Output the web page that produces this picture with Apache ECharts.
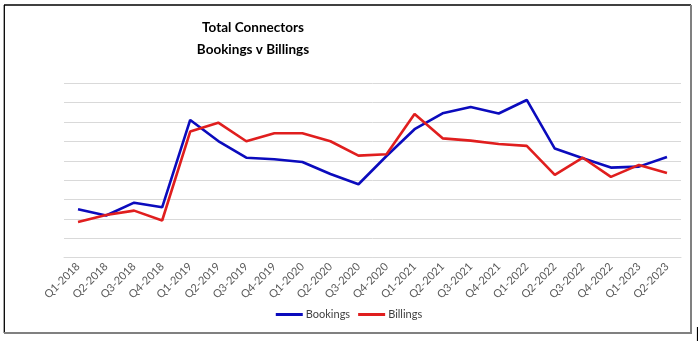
<!DOCTYPE html>
<html>
<head>
<meta charset="utf-8">
<script src="https://cdn.jsdelivr.net/npm/echarts@6/dist/echarts.min.js"></script>
<style>
  html, body { margin: 0; padding: 0; background: #ffffff; }
  #chart { width: 698px; height: 341px; }
</style>
</head>
<body>
<div id="chart"></div>
<script>
// Quarterly connector volumes (relative units)
const quarters = [
  'Q1-2018', 'Q2-2018', 'Q3-2018', 'Q4-2018',
  'Q1-2019', 'Q2-2019', 'Q3-2019', 'Q4-2019',
  'Q1-2020', 'Q2-2020', 'Q3-2020', 'Q4-2020',
  'Q1-2021', 'Q2-2021', 'Q3-2021', 'Q4-2021',
  'Q1-2022', 'Q2-2022', 'Q3-2022', 'Q4-2022',
  'Q1-2023', 'Q2-2023'
];
const bookings = [
  2.50, 2.18, 2.84, 2.60,
  7.11, 6.02, 5.16, 5.08,
  4.94, 4.32, 3.79, 5.25,
  6.63, 7.45, 7.78, 7.44,
  8.14, 5.63, 5.13, 4.65,
  4.70, 5.20
];
const billings = [
  1.84, 2.20, 2.43, 1.92,
  6.51, 6.97, 6.01, 6.42,
  6.42, 6.01, 5.27, 5.34,
  7.42, 6.16, 6.04, 5.87,
  5.77, 4.27, 5.16, 4.17,
  4.79, 4.37
];

const chart = echarts.init(document.getElementById('chart'), null, { renderer: 'canvas' });
const labelFont = 'Lato, "Open Sans", sans-serif';

chart.setOption({
  animation: false,
  backgroundColor: '#ffffff',
  title: {
    text: 'Total Connectors\nBookings v Billings',
    left: 248,
    top: 12,
    textAlign: 'center',
    textStyle: {
      fontFamily: labelFont,
      fontWeight: 'bold',
      fontSize: 13.5,
      lineHeight: 22,
      color: '#000000'
    }
  },
  legend: {
    bottom: 16,
    left: 'center',
    itemWidth: 27,
    itemHeight: 3,
    itemGap: 8,
    icon: 'rect',
    textStyle: { fontFamily: labelFont, fontSize: 11, color: '#404040', padding: [0, 0, 0, -2] },
    data: ['Bookings', 'Billings']
  },
  grid: { left: 64, right: 17, top: 83.3, bottom: 83.3, containLabel: false },
  xAxis: {
    type: 'category',
    data: quarters,
    boundaryGap: true,
    axisLine: { show: true, lineStyle: { color: '#d9d9d9', width: 1 } },
    axisTick: { show: false },
    axisLabel: {
      rotate: 45,
      interval: 0,
      margin: 7,
      fontFamily: labelFont,
      fontSize: 11,
      color: '#595959'
    }
  },
  yAxis: {
    type: 'value',
    min: 0,
    max: 9,
    interval: 1,
    axisLine: { show: false },
    axisTick: { show: false },
    axisLabel: { show: false },
    splitLine: { lineStyle: { color: '#d9d9d9', width: 1 } }
  },
  series: [
    {
      name: 'Bookings',
      type: 'line',
      data: bookings,
      symbol: 'none',
      lineStyle: { color: '#0b0bbd', width: 2.6 },
      itemStyle: { color: '#0b0bbd' }
    },
    {
      name: 'Billings',
      type: 'line',
      data: billings,
      symbol: 'none',
      lineStyle: { color: '#e01e1e', width: 2.6 },
      itemStyle: { color: '#e01e1e' }
    }
  ],
  graphic: [
    // chart frame
    { type: 'line', shape: { x1: 4, y1: 5, x2: 691, y2: 5 }, style: { stroke: '#000000', lineWidth: 1.3 } },
    { type: 'line', shape: { x1: 4.3, y1: 5, x2: 4.3, y2: 333 }, style: { stroke: '#000000', lineWidth: 1.3 } },
    { type: 'line', shape: { x1: 691, y1: 5, x2: 691, y2: 334 }, style: { stroke: '#808080', lineWidth: 2 } },
    { type: 'line', shape: { x1: 4, y1: 333, x2: 692, y2: 333 }, style: { stroke: '#808080', lineWidth: 2 } },
    // text cursor at the bottom-right edge
    { type: 'line', shape: { x1: 697.5, y1: 327, x2: 697.5, y2: 341 }, style: { stroke: '#000000', lineWidth: 1.2 } }
  ]
});
</script>
</body>
</html>
